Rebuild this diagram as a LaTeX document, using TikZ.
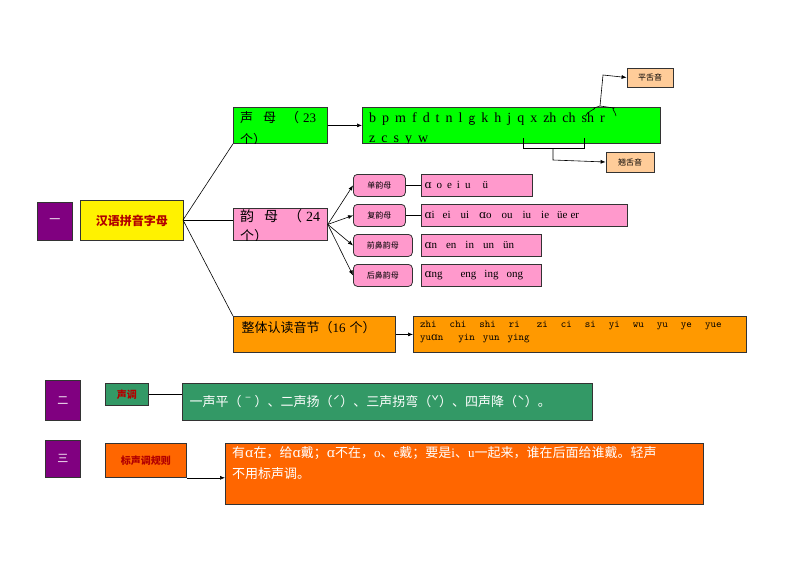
\documentclass[tikz,border=0pt]{standalone}
\usepackage{fontspec}
\setmainfont{Liberation Serif}
\newfontfamily\cj{Noto Sans CJK SC}
\newfontfamily\dv{DejaVu Serif}
\newcommand\al{{\dv ɑ}}
\newcommand\gp[1][6pt]{\hspace{#1}}
\usetikzlibrary{arrows.meta}
\definecolor{gr}{HTML}{00FF00}
\definecolor{pk}{HTML}{FF99CC}
\definecolor{og}{HTML}{FF9900}
\definecolor{pu}{HTML}{800080}
\definecolor{dg}{HTML}{339966}
\definecolor{or2}{HTML}{FF6600}
\definecolor{tan}{HTML}{FFCC99}
\tikzset{
 bx/.style={draw=black!80,line width=0.8pt,anchor=north west,inner sep=0pt,align=left},
 ar/.style={-{Latex[length=5pt,width=4pt]},line width=0.6pt},
 ln/.style={line width=0.6pt},
}
\newcommand\bxn[6]{\node[bx,fill=#6,minimum width=#3-#1,minimum height=#4-#2] (#5) at (#1,#2) {};}
\begin{document}
\begin{tikzpicture}[x=1pt,y=-1pt]
\useasboundingbox (0,0) rectangle (800,566);
% section one
\bxn{37}{202}{72}{240}{p1}{pu}
\node[text=white,font=\cj\fontsize{11}{13}\selectfont] at (p1.center) {一};
\bxn{80}{200}{183}{240}{hy}{yellow}
\node[text=red!70!black,font=\cj\bfseries\fontsize{12}{14}\selectfont] at (hy.center) {汉语拼音字母};
\node[bx,fill=gr,minimum width=94,minimum height=36] (sm) at (233,107) {};
\begin{scope}\clip (233,107) rectangle (327,143);
\node[anchor=north west,inner sep=0pt,font=\fontsize{13}{22}\selectfont,align=left] at (240,111) {{\cj 声}\gp[10pt]{\cj 母}\gp[10pt]{\cj （}\gp[4pt]23\\{\cj 个）}};
\end{scope}
\node[bx,fill=gr,minimum width=298,minimum height=36] (smb) at (362,107) {};
\begin{scope}\clip (362,107) rectangle (660,143);
\node[anchor=north west,inner sep=0pt,font=\fontsize{14}{20}\selectfont,align=left] at (369,112) {b\gp p\gp m\gp f\gp d\gp t\gp n\gp l\gp {\sffamily g}\gp k\gp h\gp j\gp q\gp x\gp zh\gp ch\gp sh\gp r\\z\gp c\gp s\gp y\gp w};
\end{scope}
\node[bx,fill=tan,minimum width=46,minimum height=19,font=\cj\fontsize{8}{9}\selectfont,anchor=center] (pz) at (650,77.5) {平舌音};
\node[bx,fill=tan,minimum width=48,minimum height=20,font=\cj\fontsize{8}{9}\selectfont,anchor=center] (qz) at (630,162) {翘舌音};
\coordinate (b1) at (600,106);
\draw[ln] (586,116) to[out=90,in=0] (594,108) -- (b1) -- (614,108) to[out=180,in=90] (616,116);
\draw[ar] (b1) -- (603,75) -- (pz.west);
\coordinate (b2) at (553,148);
\draw[ln] (523,138) -- (523,148) -- (584,148) -- (584,138);
\draw[ar] (b2) -- (553,160) -- (qz.west);
\draw[ar] (sm.east) -- (smb.west);
% yunmu
\node[bx,fill=pk,minimum width=94,minimum height=32] (ym) at (233,208) {};
\begin{scope}\clip (233,208) rectangle (327,240);
\node[anchor=north west,inner sep=0pt,font=\fontsize{14}{20}\selectfont,align=left] at (240,209) {{\cj 韵}\gp[10pt]{\cj 母}\gp[10pt]{\cj （}\gp[4pt]24\\{\cj 个）}};
\end{scope}
\tikzset{rb/.style={draw=black!80,line width=0.8pt,rounded corners=4pt,fill=pk,anchor=north west,inner sep=0pt,font=\cj\fontsize{8}{9}\selectfont},
 pb/.style={draw=black!80,line width=0.8pt,fill=pk,anchor=north west,inner sep=0pt},
 pt/.style={anchor=west,font=\fontsize{11}{13}\selectfont}}
\node[rb,minimum width=52,minimum height=22] (d1) at (353,174) {单韵母};
\node[rb,minimum width=52,minimum height=22] (d2) at (353,204) {复韵母};
\node[rb,minimum width=59,minimum height=22] (d3) at (353,234) {前鼻韵母};
\node[rb,minimum width=59,minimum height=22] (d4) at (353,264) {后鼻韵母};
\node[pb,minimum width=111,minimum height=22] (e1) at (421,174) {};
\node[pt] at (e1.west) {\al\gp[5pt]o\gp[5pt]e\gp[5pt]i\gp[5pt]u\gp[12pt]ü};
\node[pb,minimum width=206,minimum height=22] (e2) at (421,204) {};
\node[pt] at (e2.west) {\al i\gp[8pt]ei\gp[10pt]ui\gp[10pt]\al o\gp[10pt]ou\gp[10pt]iu\gp[10pt]ie\gp[8pt]üe\gp[3pt]er};
\node[pb,minimum width=120,minimum height=22] (e3) at (421,234) {};
\node[pt] at (e3.west) {\al n\gp[9pt]en\gp[9pt]in\gp[9pt]un\gp[9pt]ün};
\node[pb,minimum width=120,minimum height=22] (e4) at (421,264) {};
\node[pt] at (e4.west) {\al ng\gp[18pt]eng\gp[8pt]ing\gp[8pt]ong};
\foreach \i in {1,...,4}{\draw[ar] (ym.east) -- (d\i.west);}
\draw[ln] (d1.east) -- (e1.west);
\draw[ln] (d2.east) -- (e2.west);
% zhengti
\node[bx,fill=og,minimum width=162,minimum height=36] (zt) at (233,316) {};
\node[anchor=west,font=\fontsize{13}{15}\selectfont] at (238,328) {{\cj 整体认读音节（}16\gp[4pt]{\cj 个）}};
\node[bx,fill=og,minimum width=333,minimum height=36] (ztb) at (413,316) {};
\node[anchor=north west,inner sep=0pt,font=\ttfamily\fontsize{10.5}{13}\selectfont,align=left] at (420,321) {zhi\gp[13pt]chi\gp[13pt]shi\gp[13pt]ri\gp[17pt]zi\gp[13pt]ci\gp[13pt]si\gp[13pt]yi\gp[13pt]wu\gp[13pt]yu\gp[13pt]ye\gp[13pt]yue\\yu{\dv ɑ}n\gp[15pt]yin\gp[8pt]yun\gp[8pt]ying};
\draw[ar] (zt.east) -- (ztb.west);
% tree
\coordinate (hr) at (183,220);
\draw[ln] (hr) -- (sm.south west);
\draw[ln] (hy.east) -- (ym.west |- hy.east) ;
\draw[ln] (hr) -- (zt.north west);
% section two
\bxn{45}{380}{80}{420}{p2}{pu}
\node[text=white,font=\cj\fontsize{11}{13}\selectfont] at (p2.center) {二};
\node[bx,fill=dg,minimum width=43,minimum height=22,anchor=north west] (sd) at (105,383) {};
\node[text=red!70!black,font=\cj\bfseries\fontsize{10}{12}\selectfont] at (sd.center) {声调};
\node[bx,fill=dg,minimum width=410,minimum height=37] (sdb) at (182,383) {};
\node[anchor=west,text=white,font=\cj\fontsize{13}{15}\selectfont] at (186,401.5) {一声平（ˉ）、二声扬（ˊ）、三声拐弯（ˇ）、四声降（ˋ）。};
\draw[ln] (sd.east) -- (sdb.west |- sd.east);
% section three
\bxn{45}{440}{80}{477}{p3}{pu}
\node[text=white,font=\cj\fontsize{11}{13}\selectfont] at (p3.center) {三};
\node[bx,fill=or2,minimum width=81,minimum height=34] (bg) at (105,443) {};
\node[text=red!70!black,font=\cj\bfseries\fontsize{10}{12}\selectfont] at (bg.center) {标声调规则};
\node[bx,fill=or2,minimum width=478,minimum height=61] (bgb) at (225,443) {};
\node[anchor=north west,inner sep=0pt,text=white,font=\cj\fontsize{13}{21}\selectfont,align=left] at (232,446) {有{\dv ɑ}在，给{\dv ɑ}戴；{\dv ɑ}不在，{\rmfamily o}、{\rmfamily e}戴；要是{\rmfamily i}、{\rmfamily u}一起来，谁在后面给谁戴。轻声\\不用标声调。};
\draw[ar] (bg.south east) -- (bgb.west |- bg.south east);
\end{tikzpicture}
\end{document}
